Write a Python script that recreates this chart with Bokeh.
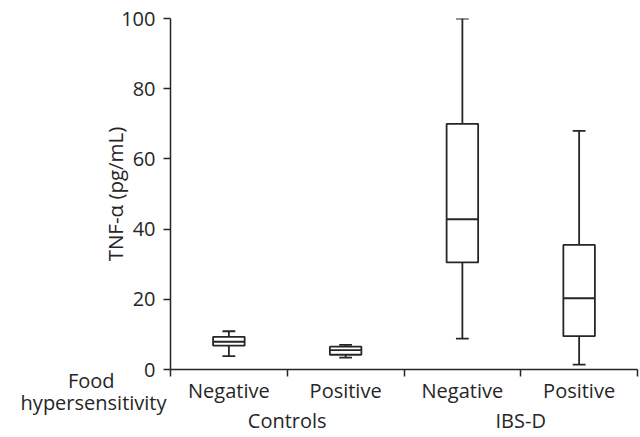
from bokeh.plotting import figure
from bokeh.models import Range1d, FixedTicker, LinearAxis, AllLabels
from bokeh.embed import file_html
from bokeh.resources import INLINE

# ---- data ----
groups = ["Controls", "IBS-D"]
group_centers = [1, 3]
subgroups = ["Negative", "Positive", "Negative", "Positive"]
whisker_low = [3.8, 3.4, 8.8, 1.4]
q1 = [6.8, 4.2, 30.5, 9.5]
median = [7.9, 5.5, 42.8, 20.3]
q3 = [9.3, 6.5, 70.0, 35.5]
whisker_high = [10.9, 7.0, 100.0, 68.0]
y_ticks = [0, 20, 40, 60, 80, 100]
row_title_lines = ["Food", "hypersensitivity"]
y_title = "TNF-\u03b1 (pg/mL)"

FONT = "Open Sans"
FS = "20px"
INK = "#262626"
LW = 1.8
NBSP = "\u00a0"

xs = [i + 0.5 for i in range(len(subgroups))]
box_w = 0.27
cap_w = 0.11

p = figure(width=640, height=437, output_backend="svg", toolbar_location=None,
           x_range=Range1d(0, len(subgroups)), y_range=Range1d(0, 100),
           min_border_left=170, min_border_right=3, min_border_top=18,
           min_border_bottom=68)
p.outline_line_color = None
p.grid.visible = False
p.background_fill_color = "white"
p.extra_y_ranges = {"rowtitle": Range1d(0, 1)}

# whiskers
p.segment(x0=xs, x1=xs, y0=whisker_low, y1=q1, line_color=INK, line_width=LW)
p.segment(x0=xs, x1=xs, y0=q3, y1=whisker_high, line_color=INK, line_width=LW)
# caps
p.segment(x0=[x - cap_w / 2 for x in xs], x1=[x + cap_w / 2 for x in xs],
          y0=whisker_low, y1=whisker_low, line_color=INK, line_width=LW)
p.segment(x0=[x - cap_w / 2 for x in xs], x1=[x + cap_w / 2 for x in xs],
          y0=whisker_high, y1=whisker_high, line_color=INK, line_width=LW)
# boxes
p.quad(left=[x - box_w / 2 for x in xs], right=[x + box_w / 2 for x in xs],
       bottom=q1, top=q3, fill_color="white", line_color=INK, line_width=LW)
# medians
p.segment(x0=[x - box_w / 2 for x in xs], x1=[x + box_w / 2 for x in xs],
          y0=median, y1=median, line_color=INK, line_width=LW)

# x axis: subgroup labels on line 1, group labels on line 2
labels = {x: s for x, s in zip(xs, subgroups)}
labels.update({c: "\n" + g for c, g in zip(group_centers, groups)})
xa = p.xaxis[0]
xa.ticker = FixedTicker(ticks=sorted(labels), minor_ticks=list(range(len(subgroups) + 1)))
xa.major_label_overrides = labels
xa.major_label_policy = AllLabels()
xa.major_tick_out = 0
xa.major_tick_in = 0
xa.major_tick_line_color = None
xa.minor_tick_out = 7
xa.minor_tick_in = 0
xa.minor_tick_line_color = INK
xa.minor_tick_line_width = 1.5
xa.axis_line_color = INK
xa.axis_line_width = 1.5
xa.major_label_standoff = 0
xa.major_label_text_font = FONT
xa.major_label_text_font_size = FS
xa.major_label_text_color = INK
xa.major_label_text_line_height = 1.14

# y axis
ya = p.yaxis[0]
ya.ticker = FixedTicker(ticks=y_ticks, minor_ticks=[])
ya.major_tick_out = 7
ya.major_tick_in = 0
ya.major_tick_line_color = INK
ya.major_tick_line_width = 1.5
ya.axis_line_color = INK
ya.axis_line_width = 1.5
ya.major_label_standoff = 8
ya.major_label_text_font = FONT
ya.major_label_text_font_size = FS
ya.major_label_text_color = INK
ya.axis_label = y_title
ya.axis_label_text_font = FONT
ya.axis_label_text_font_size = "20.5px"
ya.axis_label_text_font_style = "normal"
ya.axis_label_text_color = INK
ya.axis_label_standoff = -11

# row title: label of an outer left axis at the bottom of the frame
row_title = "\n\n" + row_title_lines[0] + NBSP * 10 + "\n" + row_title_lines[1]
ra = LinearAxis(y_range_name="rowtitle",
                ticker=FixedTicker(ticks=[0], minor_ticks=[]))
ra.major_label_overrides = {0: row_title}
ra.axis_line_color = None
ra.major_tick_line_color = None
ra.major_tick_out = 0
ra.major_tick_in = 0
ra.minor_tick_line_color = None
ra.major_label_standoff = -68
ra.major_label_text_font = FONT
ra.major_label_text_font_size = FS
ra.major_label_text_color = INK
ra.major_label_text_line_height = 0.81
p.add_layout(ra, "left")

open("out.html", "w").write(file_html(p, INLINE))
